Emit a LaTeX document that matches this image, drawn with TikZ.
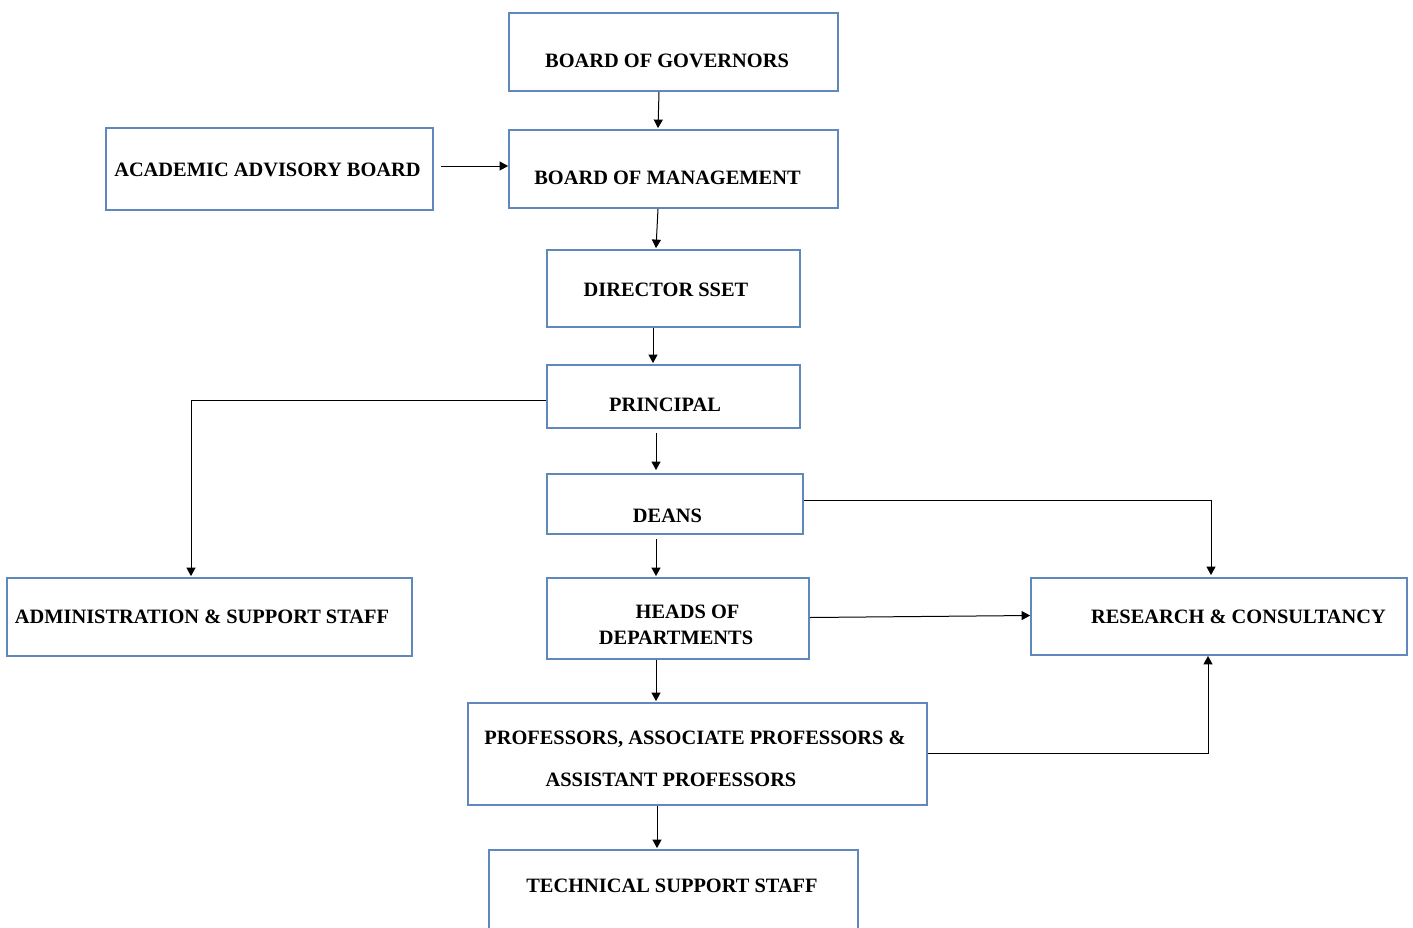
\documentclass[tikz,border=0pt]{standalone}
\usepackage{fontspec}
\setmainfont{Liberation Serif}
\usetikzlibrary{arrows.meta}
\definecolor{boxblue}{RGB}{96,136,186}
\begin{document}
\begin{tikzpicture}[x=1pt,y=-1pt,
  box/.style={draw=boxblue, line width=1.8pt, rectangle, inner sep=0pt},
  lbl/.style={font=\fontsize{20.4}{24}\selectfont\bfseries, inner sep=0pt, anchor=base},
  arr/.style={-{Triangle[length=8.5pt,width=9pt]}, line width=1pt, black}]
\clip (0,0) rectangle (1413,927);
\fill[white] (0,0) rectangle (1413,927);
% boxes
\node[box, minimum width=329pt, minimum height=78pt] (gov) at (673.5,52) {};
\node[box, minimum width=329pt, minimum height=78pt] (mgmt) at (673.5,169) {};
\node[box, minimum width=327pt, minimum height=82pt] (aab) at (269.5,169) {};
\node[box, minimum width=253pt, minimum height=77pt] (dir) at (673.5,288.5) {};
\node[box, minimum width=253pt, minimum height=63pt] (prin) at (673.5,396.5) {};
\node[box, minimum width=256pt, minimum height=60pt] (deans) at (675,504) {};
\node[box, minimum width=405pt, minimum height=78pt] (admin) at (209.5,617) {};
\node[box, minimum width=262pt, minimum height=81pt] (hod) at (678,618.5) {};
\node[box, minimum width=376pt, minimum height=77pt] (rc) at (1219,616.5) {};
\node[box, minimum width=459pt, minimum height=102pt] (prof) at (697.5,754) {};
\node[box, minimum width=369pt, minimum height=110pt] (tech) at (673.5,905) {};
% labels
\node[lbl] (govt) at (667,67) {BOARD OF GOVERNORS};
\node[lbl] (mgmtt) at (667.5,184) {BOARD OF MANAGEMENT};
\node[lbl] (aabt) at (267.5,176) {ACADEMIC ADVISORY BOARD};
\node[lbl] (dirt) at (666,296) {DIRECTOR SSET};
\node[lbl] (print) at (665,411) {PRINCIPAL};
\node[lbl] (deanst) at (667.5,522) {DEANS};
\node[lbl] (admint) at (202,623) {ADMINISTRATION \& SUPPORT STAFF};
\node[lbl] (hodt1) at (687.5,618) {HEADS OF};
\node[lbl] (hodt2) at (676,644) {DEPARTMENTS};
\node[lbl] (rct) at (1238.5,623) {RESEARCH \& CONSULTANCY};
\node[lbl] (proft1) at (695,744) {PROFESSORS, ASSOCIATE PROFESSORS \&};
\node[lbl] (proft2) at (671,786) {ASSISTANT PROFESSORS};
\node[lbl] (techt) at (672,892) {TECHNICAL SUPPORT STAFF};
% connectors
\draw[arr] ([xshift=-14.5pt]gov.south) -- ([xshift=-15.5pt,yshift=1pt]mgmt.north);
\draw[arr] ([xshift=7pt,yshift=3pt]aab.east) -- ([yshift=3pt]mgmt.west);
\draw[arr] ([xshift=-15.5pt]mgmt.south) -- ([xshift=-17.5pt,yshift=1pt]dir.north);
\draw[arr] ([xshift=-20.5pt]dir.south) -- ([xshift=-20.5pt,yshift=1pt]prin.north);
\draw[arr] ([yshift=-3.5pt]prin.west) -| ([xshift=-18.5pt,yshift=1pt]admin.north);
\draw[arr] ([xshift=-17.5pt,yshift=-4pt]prin.south) -- ([xshift=-19pt,yshift=3pt]deans.north);
\draw[arr] ([xshift=-19pt,yshift=-4pt]deans.south) -- ([xshift=-22pt,yshift=1pt]hod.north);
\draw[arr] ([yshift=4pt]deans.east) -| ([xshift=-8pt,yshift=2pt]rc.north);
\draw[arr] ([yshift=1pt]hod.east) -- ([yshift=1pt]rc.west);
\draw[arr] ([yshift=1pt]prof.east) -| ([xshift=-11pt]rc.south);
\draw[arr] ([xshift=-22pt]hod.south) -- ([xshift=-41.5pt,yshift=1pt]prof.north);
\draw[arr] ([xshift=-40.5pt]prof.south) -- ([xshift=-16.5pt,yshift=1pt]tech.north);
\end{tikzpicture}
\end{document}
